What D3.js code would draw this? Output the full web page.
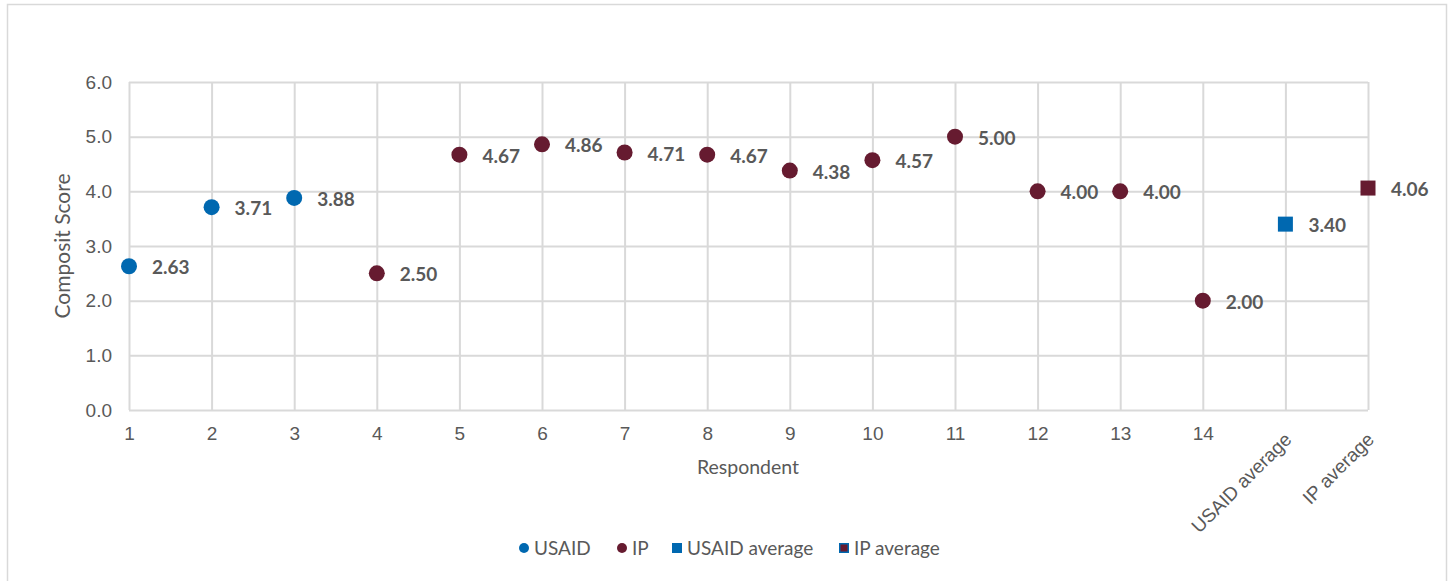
<!DOCTYPE html>
<html>
<head>
<meta charset="utf-8">
<script src="https://cdn.jsdelivr.net/npm/d3@7"></script>
<style>
  html, body { margin: 0; padding: 0; background: #fff; }
  svg { display: block; font-family: Lato, "Open Sans", sans-serif; }
</style>
</head>
<body>
<svg id="chart" width="1453" height="581"></svg>
<script>
// Category labels along the x axis
const categories = ["1","2","3","4","5","6","7","8","9","10","11","12","13","14","USAID average","IP average"];
// Individual respondent scores by group
const usaidRespondents = ["1","2","3"];
const usaidScores = [2.63, 3.71, 3.88];
const ipRespondents = ["4","5","6","7","8","9","10","11","12","13","14"];
const ipScores = [2.50, 4.67, 4.86, 4.71, 4.67, 4.38, 4.57, 5.00, 4.00, 4.00, 2.00];
// Group averages
const usaidAverage = [3.40];
const ipAverage = [4.06];
const yTicks = [0, 1, 2, 3, 4, 5, 6];
const legendLabels = ["USAID", "IP", "USAID average", "IP average"];

const BLUE = "#0068b0";
const MAROON = "#661b30";
const TEXT = "#595959";
const GRID = "#d9d9d9";

const svg = d3.select("#chart");

// outer chart frame
svg.append("rect").attr("x", 7.5).attr("y", 4.5).attr("width", 1439).attr("height", 590)
  .attr("fill", "none").attr("stroke", GRID).attr("stroke-width", 1.5);

const plotLeft = 129, plotRight = 1368, plotTop = 82, plotBottom = 410;
const x = d3.scalePoint().domain(categories).range([plotLeft, plotRight]).padding(0);
const y = d3.scaleLinear().domain([0, 6]).range([plotBottom, plotTop]);

// horizontal gridlines + y axis labels
const yAxis = d3.axisLeft(y).tickValues(yTicks).tickFormat(d3.format(".1f"))
  .tickSize(-(plotRight - plotLeft)).tickPadding(17);
const gy = svg.append("g").attr("transform", `translate(${plotLeft},0)`).call(yAxis);
gy.select(".domain").remove();
gy.selectAll(".tick line").attr("stroke", GRID).attr("stroke-width", 2);
gy.selectAll(".tick text").attr("fill", TEXT).attr("font-size", 19);

// vertical gridlines + x axis labels
const xAxis = d3.axisBottom(x).tickSize(-(plotBottom - plotTop)).tickPadding(12);
const gx = svg.append("g").attr("transform", `translate(0,${plotBottom})`).call(xAxis);
gx.select(".domain").remove();
gx.selectAll(".tick line").attr("stroke", GRID).attr("stroke-width", 2);
gx.selectAll(".tick text").attr("fill", TEXT).attr("font-size", 19).attr("dy", "0.95em");
gx.selectAll(".tick text").filter(d => isNaN(+d))
  .attr("text-anchor", "end")
  .attr("x", 0).attr("y", 0)
  .attr("dy", "0.35em")
  .attr("transform", "translate(2,26) rotate(-45)");

// axis titles
svg.append("text").attr("transform", `translate(70,${(plotTop + plotBottom) / 2}) rotate(-90)`)
  .attr("text-anchor", "middle").attr("fill", TEXT).attr("font-size", 21).text("Composit Score");
svg.append("text").attr("x", 748).attr("y", 474)
  .attr("text-anchor", "middle").attr("fill", TEXT).attr("font-size", 19.5).text("Respondent");

const fmt = d3.format(".2f");
function labels(keys, vals) {
  svg.append("g").selectAll("text").data(vals).join("text")
    .attr("x", (d, i) => x(keys[i]) + 23)
    .attr("y", d => y(d) + 8)
    .attr("fill", TEXT).attr("font-size", 19).attr("font-weight", "bold")
    .text(d => fmt(d));
}

// respondent points
svg.append("g").selectAll("circle").data(usaidScores).join("circle")
  .attr("cx", (d, i) => x(usaidRespondents[i])).attr("cy", d => y(d)).attr("r", 8)
  .attr("fill", BLUE);
svg.append("g").selectAll("circle").data(ipScores).join("circle")
  .attr("cx", (d, i) => x(ipRespondents[i])).attr("cy", d => y(d)).attr("r", 8)
  .attr("fill", MAROON);
// averages as squares
svg.append("g").selectAll("rect").data(usaidAverage).join("rect")
  .attr("x", x("USAID average") - 7.5).attr("y", d => y(d) - 7.5)
  .attr("width", 15).attr("height", 15).attr("fill", BLUE);
svg.append("g").selectAll("rect").data(ipAverage).join("rect")
  .attr("x", x("IP average") - 7.5).attr("y", d => y(d) - 7.5)
  .attr("width", 15).attr("height", 15).attr("fill", MAROON);

labels(usaidRespondents, usaidScores);
labels(ipRespondents, ipScores);
labels(["USAID average"], usaidAverage);
labels(["IP average"], ipAverage);

// legend
const legend = svg.append("g").attr("font-size", 19).attr("fill", TEXT);
const legendX = [519, 617, 672, 839];
legendLabels.forEach((name, i) => {
  const g = legend.append("g").attr("transform", `translate(${legendX[i]},548)`);
  if (i < 2) {
    g.append("circle").attr("cx", 5).attr("cy", 0).attr("r", 5).attr("fill", i === 0 ? BLUE : MAROON);
  } else if (i === 2) {
    g.append("rect").attr("x", 0).attr("y", -5).attr("width", 10).attr("height", 10).attr("fill", BLUE);
  } else {
    g.append("rect").attr("x", 0.75).attr("y", -4.25).attr("width", 8.5).attr("height", 8.5)
      .attr("fill", MAROON).attr("stroke", BLUE).attr("stroke-width", 1.5);
  }
  g.append("text").attr("x", 15).attr("y", 7).attr("fill", TEXT).text(name);
});
</script>
</body>
</html>
